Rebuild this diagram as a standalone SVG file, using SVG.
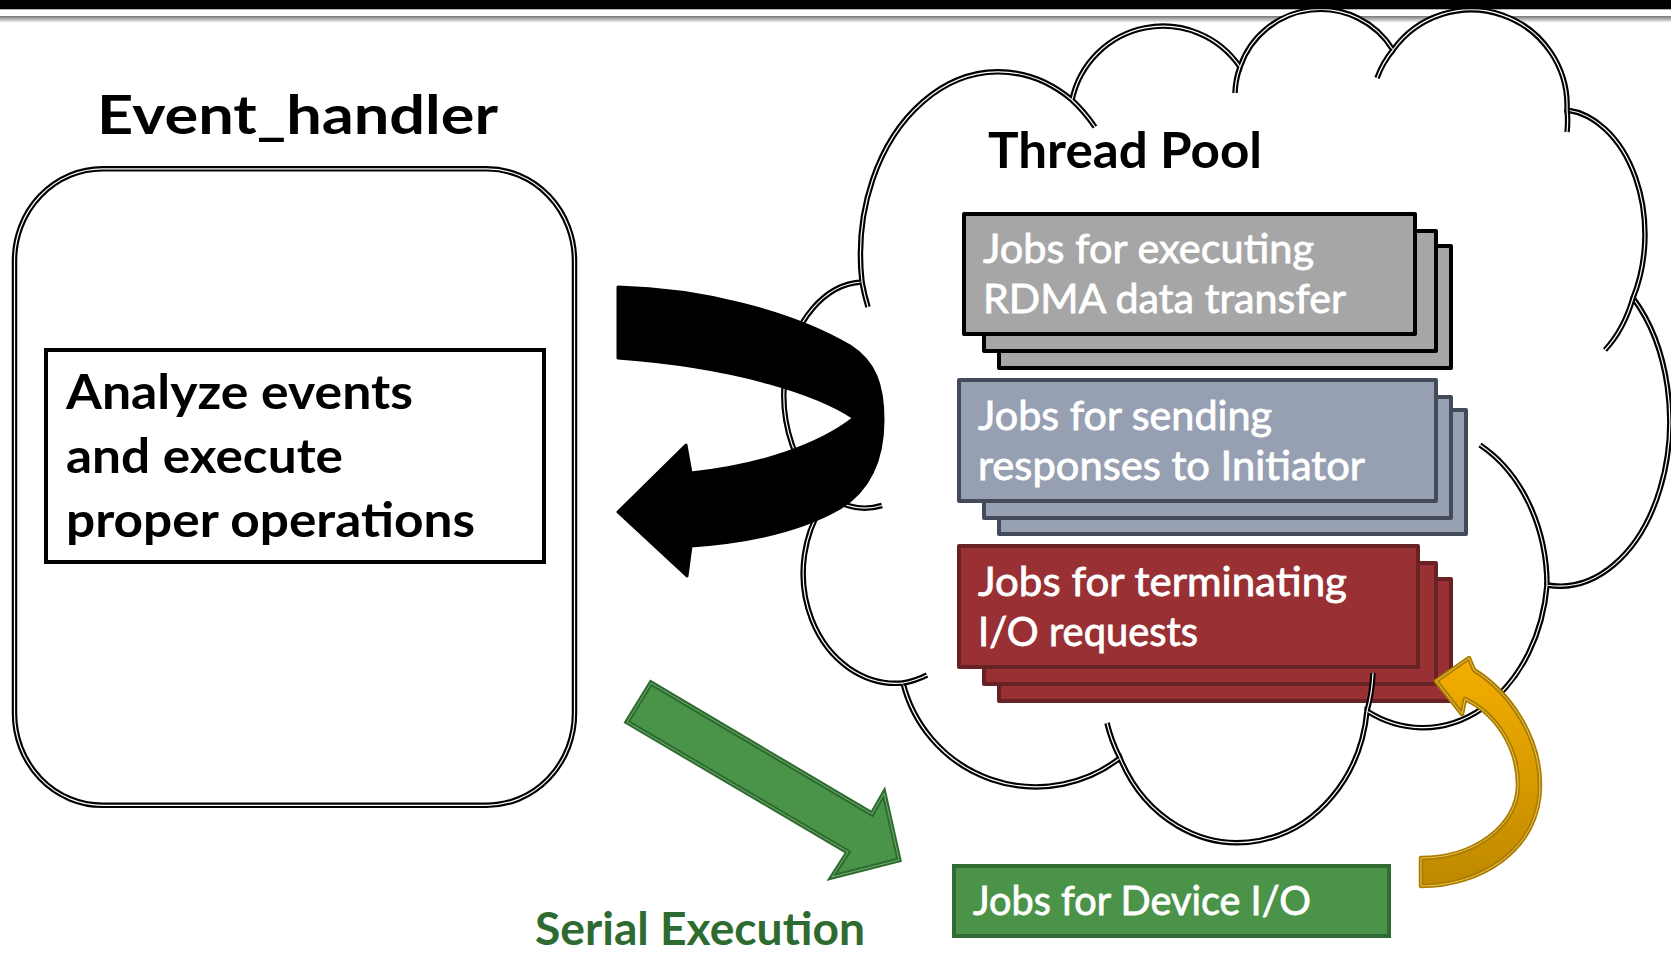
<svg xmlns="http://www.w3.org/2000/svg" width="1671" height="953" viewBox="0 0 1671 953">
  <defs>
    <linearGradient id="rule-shade" x1="0" y1="0" x2="0" y2="1">
      <stop offset="0" stop-color="#777777"/>
      <stop offset="1" stop-color="#ececec"/>
    </linearGradient>
    <linearGradient id="gold-fill" x1="0" y1="0" x2="0" y2="1">
      <stop offset="0" stop-color="#F4AE00"/>
      <stop offset="1" stop-color="#BE8900"/>
    </linearGradient>
    <!-- cloud body: eleven elliptical lobes -->
    <path id="cloud-body" d="M 862 282
      A 138 183 0 0 1 1072 100
      A 93 93 0 0 1 1240 67
      A 85 85 0 0 1 1393 50
      A 96 96 0 0 1 1567 110
      A 86 125 0 0 1 1633 298
      A 110 165 0 0 1 1547 585
      A 125 159 0 0 1 1367 711
      A 130 147 0 0 1 1120 758
      A 137 137 0 0 1 903 683
      A 93 110 0 0 1 829.5 496.6
      A 81 113 0 0 1 862 282 Z"/>
    <!-- short inner arcs where lobes meet -->
    <path id="cloud-seams" d="M 862 282 A 138 183 0 0 0 868 307
      M 1072 100 A 138 183 0 0 1 1095 127
      M 1240 67 A 85 85 0 0 0 1235 93
      M 1393 50 A 96 96 0 0 0 1377 78
      M 1567 110 A 96 96 0 0 1 1567 132
      M 1633 298 A 86 125 0 0 1 1605 350
      M 1547 585 A 125 159 0 0 0 1480 445
      M 1367 711 A 130 147 0 0 0 1373 673
      M 1120 758 A 130 147 0 0 1 1107 723
      M 903 683 A 93 110 0 0 0 927 675
      M 829.5 496.6 A 81 113 0 0 0 882 505.5"/>
    <rect id="handler-frame" x="14.5" y="168.8" width="560" height="636.5" rx="88" ry="92"/>
    <path id="serial-arrow" d="M 651 683 L 872 814 L 884 793 L 899 860 L 832 877 L 848 852 L 627 722 Z"/>
    <path id="io-arrow" d="M 1421 886
      C 1480 886 1540 850 1540 785
      C 1540 736 1509 692 1474 670
      L 1469 658 L 1436 681 L 1462 714 L 1465 699
      C 1495 713 1518 746 1518 785
      C 1518 825 1475 858 1421 858 Z"/>
  </defs>
  <style>
    text { font-family: Lato, "Open Sans", "Liberation Sans", sans-serif; }
    .head { font-weight: 700; fill: #000; }
    .job { font-size: 41px; fill: #ffffff; stroke: #ffffff; stroke-width: 0.8; }
    .line-dark { fill: none; stroke: #000; stroke-width: 5.5; }
    .line-light { fill: none; stroke: #fff; stroke-width: 1.2; }
    .card { stroke-width: 4; stroke-linejoin: round; }
    .gray { fill: #A6A6A6; stroke: #000; }
    .slate { fill: #979FB2; stroke: #434B5B; }
    .brick { fill: #983034; stroke: #692224; }
  </style>

  <rect x="0" y="0" width="1671" height="953" fill="#ffffff"/>
  <rect x="0" y="16" width="1671" height="6" fill="url(#rule-shade)"/>

  <!-- Thread pool cloud -->
  <g id="thread-pool">
    <use href="#cloud-body" fill="#ffffff" stroke="#000" stroke-width="5.5"/>
    <use href="#cloud-body" class="line-light"/>
    <text class="head" x="988" y="168" font-size="49" textLength="274" lengthAdjust="spacingAndGlyphs">Thread Pool</text>
  </g>

  <!-- RDMA transfer jobs -->
  <g id="rdma-jobs">
    <rect class="card gray" x="999" y="246" width="452" height="122"/>
    <rect class="card gray" x="984" y="231" width="452" height="120"/>
    <rect class="card gray" x="964" y="214" width="451" height="120"/>
    <text class="job" x="983" y="263" textLength="331" lengthAdjust="spacingAndGlyphs">Jobs for executing</text>
    <text class="job" x="983" y="313" textLength="363" lengthAdjust="spacingAndGlyphs">RDMA data transfer</text>
  </g>

  <!-- response jobs -->
  <g id="response-jobs">
    <rect class="card slate" x="999" y="410" width="467" height="124"/>
    <rect class="card slate" x="984" y="397" width="467" height="121"/>
    <rect class="card slate" x="959" y="380" width="477" height="121"/>
    <text class="job" x="978" y="430" textLength="294" lengthAdjust="spacingAndGlyphs">Jobs for sending</text>
    <text class="job" x="978" y="480" textLength="387" lengthAdjust="spacingAndGlyphs">responses to Initiator</text>
  </g>

  <!-- termination jobs -->
  <g id="terminate-jobs">
    <rect class="card brick" x="999" y="579" width="452" height="122"/>
    <rect class="card brick" x="984" y="563" width="452" height="121"/>
    <rect class="card brick" x="959" y="546" width="459" height="121"/>
    <text class="job" x="978" y="596" textLength="369" lengthAdjust="spacingAndGlyphs">Jobs for terminating</text>
    <text class="job" x="978" y="646" textLength="220" lengthAdjust="spacingAndGlyphs">I/O requests</text>
  </g>

  <!-- cloud seams drawn over the stacks -->
  <g id="thread-pool-seams">
    <use href="#cloud-seams" class="line-dark"/>
    <use href="#cloud-seams" class="line-light"/>
  </g>

  <!-- Event handler -->
  <g id="event-handler">
    <text class="head" x="97" y="134" font-size="54" textLength="401" lengthAdjust="spacingAndGlyphs">Event_handler</text>
    <use href="#handler-frame" class="line-dark" fill="#ffffff"/>
    <use href="#handler-frame" class="line-light"/>
    <rect x="46" y="350" width="498" height="212" fill="#ffffff" stroke="#000" stroke-width="4"/>
    <text class="head" x="66" y="409" font-size="48" textLength="347" lengthAdjust="spacingAndGlyphs">Analyze events</text>
    <text class="head" x="66" y="473" font-size="48" textLength="277" lengthAdjust="spacingAndGlyphs">and execute</text>
    <text class="head" x="66" y="537" font-size="48" textLength="409" lengthAdjust="spacingAndGlyphs">proper operations</text>
  </g>

  <g id="connectors">
    <!-- dispatch / return loop -->
    <path id="loop-arrow" fill="#000" stroke="#000" stroke-width="3" stroke-linejoin="round"
      d="M 618 287
         C 700 289 790 311 850 346
         C 875 362 883 385 883 420
         C 883 460 869 490 840 508
         C 800 531 750 542 691 546
         L 687 576 L 618 512 L 686 445 L 691 473
         C 760 466 820 445 854 418
         C 820 395 740 367 618 358 Z"/>
    <!-- serial hand-off -->
    <use href="#serial-arrow" fill="#4A944A" stroke="#2F6A30" stroke-width="5" stroke-linejoin="miter"/>
    <use href="#serial-arrow" fill="none" stroke="#6DB36B" stroke-width="1" stroke-linejoin="miter"/>
    <!-- device I/O completion -->
    <use href="#io-arrow" fill="url(#gold-fill)" stroke="#A97C00" stroke-width="4.5" stroke-linejoin="round"/>
    <use href="#io-arrow" fill="none" stroke="#F3C54E" stroke-width="1" stroke-linejoin="round"/>
  </g>

  <text x="535" y="945" font-size="45" font-weight="700" fill="#2E6B30" textLength="330" lengthAdjust="spacingAndGlyphs">Serial Execution</text>

  <!-- Device I/O jobs -->
  <g id="device-io-jobs">
    <rect x="954" y="866" width="435" height="70" fill="#4A9349" stroke="#2F6B33" stroke-width="4"/>
    <text class="job" x="973" y="915" textLength="338" lengthAdjust="spacingAndGlyphs">Jobs for Device I/O</text>
  </g>

  <rect x="0" y="0" width="1671" height="9.3" fill="#000"/>
</svg>
